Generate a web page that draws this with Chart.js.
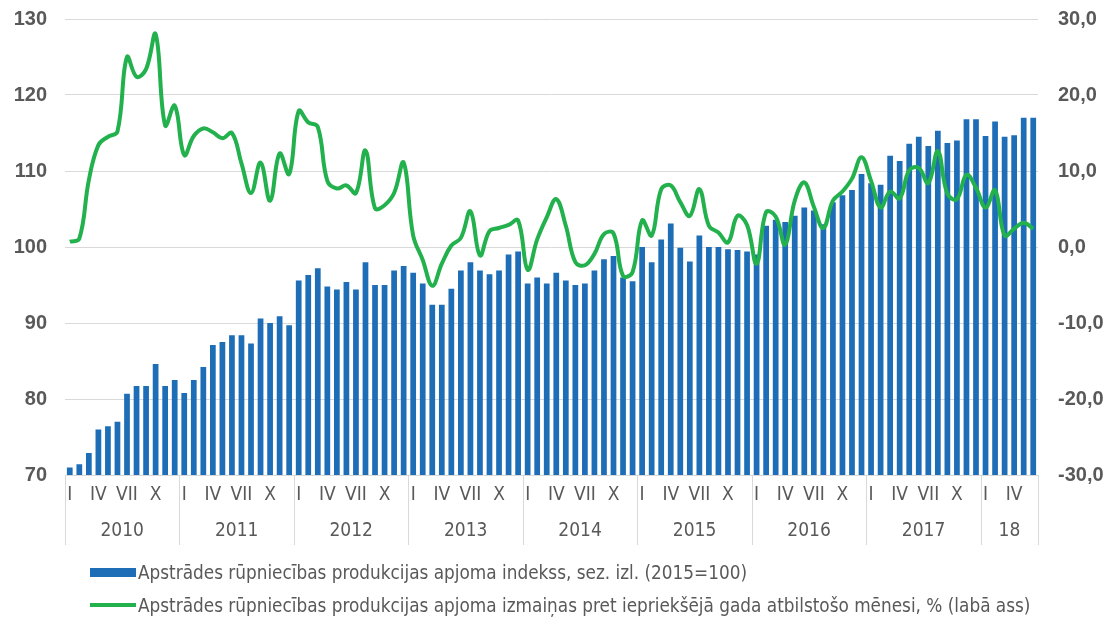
<!DOCTYPE html>
<html>
<head>
<meta charset="utf-8">
<script src="https://cdn.jsdelivr.net/npm/chart.js@4.4.1/dist/chart.umd.min.js"></script>
<style>
    html, body { margin: 0; padding: 0; background: #fff; }
    #wrap { position: relative; width: 1109px; height: 618px; }
    #grafiks { position: absolute; left: 0; top: 0; }
    .legend-item {
        position: absolute; left: 90px; height: 20px;
        display: flex; align-items: center; white-space: nowrap;
        font-family: "Liberation Sans Narrow", "DejaVu Sans Condensed", sans-serif;
        font-size: 18.8px; color: #595959;
    }
    .legend-item .marker { display: inline-block; width: 46px; margin-right: 2px; }
</style>
</head>
<body>
<div id="wrap">
    <canvas id="grafiks" width="1109" height="618"></canvas>
    <div id="legenda"></div>
</div>
<script>
// Gadi un mēnešu apzīmējumi
const years = [2010, 2011, 2012, 2013, 2014, 2015, 2016, 2017, 2018];
const yearLabels = ['2010', '2011', '2012', '2013', '2014', '2015', '2016', '2017', '18'];
const monthTicks = ['I', '', '', 'IV', '', '', 'VII', '', '', 'X', '', ''];

// Apstrādes rūpniecības produkcijas apjoma indekss, sez. izl. (2015=100)
const indexValues = [
    71.0, 71.4, 72.9, 76.0, 76.4, 77.0, 80.7, 81.7, 81.7, 84.6, 81.7, 82.5,
    80.8, 82.5, 84.2, 87.1, 87.5, 88.4, 88.4, 87.3, 90.6, 90.0, 90.9, 89.7,
    95.6, 96.3, 97.2, 94.8, 94.4, 95.4, 94.4, 98.0, 95.0, 95.0, 96.9, 97.5,
    96.6, 95.2, 92.4, 92.4, 94.5, 96.9, 98.0, 96.9, 96.4, 96.9, 99.0, 99.4,
    95.2, 96.0, 95.2, 96.6, 95.6, 95.0, 95.2, 96.9, 98.4, 98.8, 96.0, 95.5,
    100.0, 98.0, 101.0, 103.1, 99.9, 98.1, 101.5, 100.0, 100.0, 99.7, 99.6, 99.4,
    99.0, 102.8, 103.6, 103.3, 104.1, 105.2, 104.8, 103.0, 105.9, 106.8, 107.5, 109.6,
    108.4, 108.2, 112.0, 111.3, 113.6, 114.5, 113.3, 115.3, 113.7, 114.0, 116.8, 116.8,
    114.6, 116.5, 114.5, 114.7, 117.0, 117.0
];

// Izmaiņas pret iepriekšējā gada atbilstošo mēnesi, %
const changeValues = [
    0.7, 1.1, 8.8, 13.4, 14.5, 15.2, 25.0, 22.4, 23.4, 28.0, 16.0, 18.6,
    12.1, 14.6, 15.6, 15.1, 14.3, 15.0, 11.0, 7.1, 11.1, 6.1, 12.3, 9.6,
    17.9, 16.4, 15.8, 8.7, 7.7, 8.1, 7.1, 12.7, 5.1, 5.5, 7.1, 11.1,
    1.5, -1.7, -5.1, -2.2, 0.2, 1.2, 4.7, -1.1, 2.1, 2.5, 2.9, 3.5,
    -3.0, 1.0, 3.9, 6.3, 2.8, -2.0, -2.4, -0.9, 1.7, 1.8, -3.8, -3.3,
    3.5, 1.5, 7.6, 8.1, 5.9, 4.1, 7.6, 2.8, 1.9, 0.6, 4.1, 2.9,
    -2.2, 4.6, 4.0, 0.3, 6.1, 8.5, 5.3, 2.5, 6.1, 7.3, 9.0, 11.8,
    8.7, 5.2, 7.3, 6.4, 10.1, 10.4, 8.4, 12.6, 7.0, 6.3, 9.5, 7.8,
    5.2, 7.5, 1.5, 2.4, 3.2, 2.4
];

// Kategorijas: gads-mēnesis
const labels = indexValues.map((v, i) => years[Math.floor(i / 12)] + '-' + (i % 12 + 1));

const greyText = '#595959';
const narrowFont = '"Liberation Sans Narrow", "DejaVu Sans Condensed", sans-serif';

// Gadu paraksti un atdalītāji zem ass
const yearAxis = {
    id: 'yearAxis',
    afterDraw(chart) {
        const x = chart.scales.x;
        const ctx = chart.ctx;
        const step = x.getPixelForValue(1) - x.getPixelForValue(0);
        const n = labels.length;
        const bottom = chart.chartArea.bottom;
        ctx.save();
        ctx.strokeStyle = '#d9d9d9';
        ctx.lineWidth = 1;
        ctx.fillStyle = greyText;
        ctx.font = '19px ' + narrowFont;
        ctx.textAlign = 'center';
        ctx.textBaseline = 'middle';
        for (let j = 0; j < yearLabels.length; j++) {
            const first = j * 12;
            const last = Math.min(first + 11, n - 1);
            const left = x.getPixelForValue(first) - step / 2;
            const right = x.getPixelForValue(last) + step / 2;
            ctx.beginPath();
            ctx.moveTo(Math.round(left) + 0.5, bottom);
            ctx.lineTo(Math.round(left) + 0.5, bottom + 70);
            ctx.stroke();
            if (j === yearLabels.length - 1) {
                ctx.beginPath();
                ctx.moveTo(Math.round(right) + 0.5, bottom);
                ctx.lineTo(Math.round(right) + 0.5, bottom + 70);
                ctx.stroke();
            }
            ctx.fillText(yearLabels[j], (left + right) / 2, bottom + 56);
        }
        ctx.restore();
    }
};

// Vertikālajām asīm bez papildu atkāpes augšā
const noTopPad = (scale) => { scale.paddingTop = 0; scale.paddingBottom = 0; };

const chart = new Chart(document.getElementById('grafiks'), {
    type: 'bar',
    data: {
        labels: labels,
        datasets: [
            {
                type: 'line',
                label: 'Apstrādes rūpniecības produkcijas apjoma izmaiņas pret iepriekšējā gada atbilstošo mēnesi, % (labā ass)',
                data: changeValues,
                yAxisID: 'y1',
                borderColor: '#22b14c',
                backgroundColor: '#22b14c',
                borderWidth: 4,
                pointRadius: 0,
                tension: 0.4,
                order: 0
            },
            {
                label: 'Apstrādes rūpniecības produkcijas apjoma indekss, sez. izl. (2015=100)',
                data: indexValues,
                yAxisID: 'y',
                backgroundColor: '#1e6db7',
                barPercentage: 0.6,
                categoryPercentage: 1.0,
                order: 1
            }
        ]
    },
    options: {
        responsive: false,
        animation: false,
        layout: { padding: { top: 19, left: 0, right: 0, bottom: 0 } },
        plugins: {
            legend: { display: false },
            tooltip: { enabled: false }
        },
        scales: {
            x: {
                grid: { display: false, drawTicks: false },
                border: { display: false },
                ticks: {
                    autoSkip: false,
                    maxRotation: 0,
                    padding: 9,
                    color: greyText,
                    font: { family: narrowFont, size: 19 },
                    callback: (val, idx) => monthTicks[idx % 12]
                },
                afterFit: (scale) => { scale.height = 143; }
            },
            y: {
                position: 'left',
                min: 70,
                max: 130,
                grid: { color: '#d9d9d9', drawTicks: false },
                border: { display: false },
                ticks: {
                    stepSize: 10,
                    padding: 18,
                    color: greyText,
                    font: { family: 'Liberation Sans, Arial, sans-serif', size: 20, weight: 'bold' }
                },
                afterFit: (scale) => { scale.width = 65; noTopPad(scale); }
            },
            y1: {
                position: 'right',
                min: -30,
                max: 30,
                grid: { display: false, drawTicks: false },
                border: { display: false },
                ticks: {
                    stepSize: 10,
                    padding: 20,
                    color: greyText,
                    font: { family: 'Liberation Sans, Arial, sans-serif', size: 20, weight: 'bold' },
                    callback: (v) => v.toFixed(1).replace('.', ',')
                },
                afterFit: (scale) => { scale.width = 71; noTopPad(scale); }
            }
        }
    },
    plugins: [yearAxis]
});

// Leģenda zem grafika (stabiņi vispirms, tad līnija)
const legendDiv = document.getElementById('legenda');
const legendTops = [562, 595];
[1, 0].forEach((dsIndex, row) => {
    const ds = chart.data.datasets[dsIndex];
    const item = document.createElement('div');
    item.className = 'legend-item';
    item.style.top = legendTops[row] + 'px';
    const marker = document.createElement('span');
    marker.className = 'marker';
    if (ds.type === 'line') {
        marker.style.height = '4px';
        marker.style.background = ds.borderColor;
    } else {
        marker.style.height = '9px';
        marker.style.background = ds.backgroundColor;
    }
    item.appendChild(marker);
    item.appendChild(document.createTextNode(ds.label));
    legendDiv.appendChild(item);
});
</script>
</body>
</html>
